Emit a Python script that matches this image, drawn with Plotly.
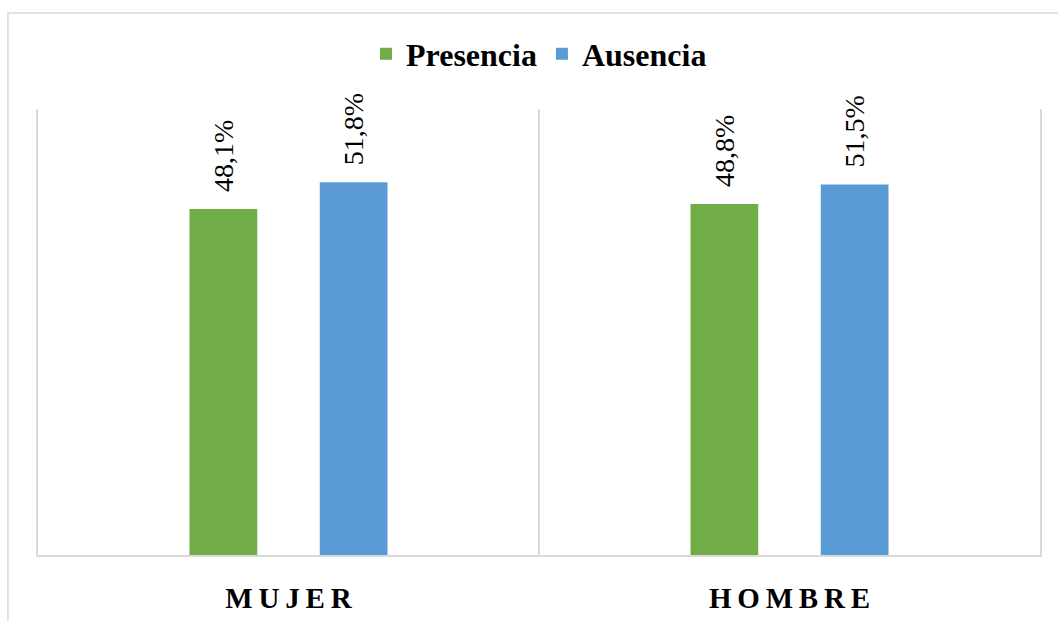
import plotly.graph_objects as go

# Categories and percentages per group
categorias = ["M\u2009U\u2009J\u2009E\u2009R", "H\u2009O\u2009M\u2009B\u2009R\u2009E"]
presencia = [48.1, 48.8]
ausencia = [51.8, 51.5]

def etiqueta(v):
    # en space in front keeps the rotated label clear of the bar top
    return "\u2002" + f"{v:.1f}".replace(".", ",") + "%"

fuente = "Liberation Serif"
gris = "#d9d9d9"

fig = go.Figure()
fig.add_trace(go.Bar(
    name="Presencia", x=categorias, y=presencia,
    marker=dict(color="#70AD47", line=dict(width=0)),
    text=[etiqueta(v) for v in presencia],
    textposition="outside", textangle=-90, constraintext="none",
    outsidetextfont=dict(family=fuente, size=28, color="#000000"),
    cliponaxis=False,
))
fig.add_trace(go.Bar(
    name="Ausencia", x=categorias, y=ausencia,
    marker=dict(color="#5B9BD5", line=dict(width=0)),
    text=[etiqueta(v) for v in ausencia],
    textposition="outside", textangle=-90, constraintext="none",
    outsidetextfont=dict(family=fuente, size=28, color="#000000"),
    cliponaxis=False,
))

fig.update_layout(
    width=1058, height=621,
    font=dict(family=fuente, color="#000000"),
    margin=dict(l=38, r=18, t=109, b=66, autoexpand=False),
    paper_bgcolor="white", plot_bgcolor="white",
    barmode="group", bargap=0.48, bargroupgap=0.48,
    legend=dict(
        orientation="h", x=0.5, xanchor="center",
        yref="container", y=0.913, yanchor="middle",
        font=dict(family=fuente, size=32, color="#000000", weight="bold"),
        itemwidth=30, tracegroupgap=0,
        bgcolor="rgba(0,0,0,0)",
    ),
    showlegend=True,
    shapes=[dict(
        type="rect", xref="paper", yref="paper",
        x0=-0.030, x1=1.2, y0=-0.5, y1=1.215,
        line=dict(color=gris, width=1.5), fillcolor="rgba(0,0,0,0)",
        layer="below",
    )],
)

fig.update_xaxes(
    type="category", tickson="boundaries", showgrid=True,
    gridcolor=gris, gridwidth=1.5,
    showline=True, linecolor=gris, linewidth=2,
    ticks="", ticklabelstandoff=16,
    tickfont=dict(family=fuente, size=29, color="#000000", weight="bold"),
)
fig.update_yaxes(
    range=[0, 62], showgrid=False, zeroline=False,
    showticklabels=False, ticks="",
    showline=True, mirror=True, linecolor=gris, linewidth=1.5,
)

fig.write_html("out.html")
